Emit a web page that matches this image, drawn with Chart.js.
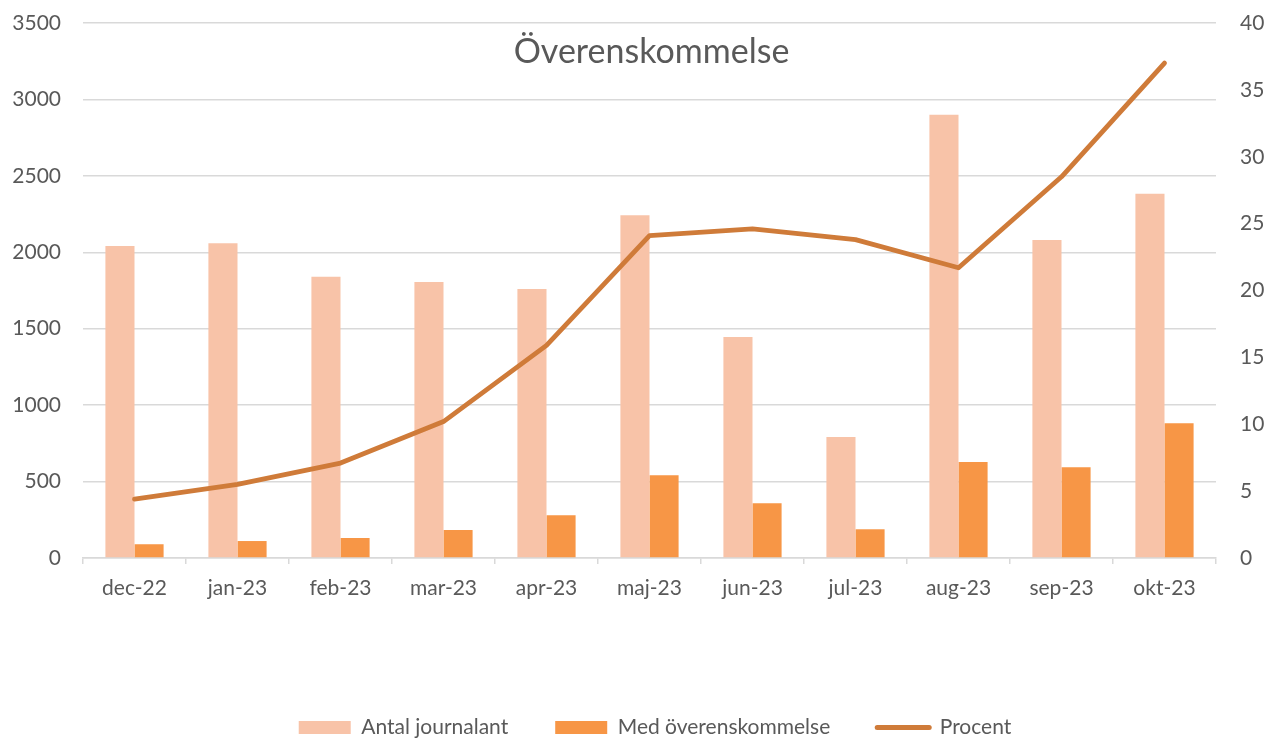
<!DOCTYPE html>
<html>
<head>
<meta charset="utf-8">
<script src="https://cdn.jsdelivr.net/npm/chart.js@4/dist/chart.umd.min.js"></script>
<style>
  html, body { margin: 0; padding: 0; background: #fff; }
  #wrap { width: 1268px; height: 738px; }
</style>
</head>
<body>
<div id="wrap"><canvas id="chart" width="1268" height="738"></canvas></div>
<script>
// Data
const months = ['dec-22', 'jan-23', 'feb-23', 'mar-23', 'apr-23', 'maj-23', 'jun-23', 'jul-23', 'aug-23', 'sep-23', 'okt-23'];
const antalJournalant = [2041, 2059, 1840, 1806, 1760, 2242, 1446, 792, 2900, 2080, 2383];
const medOverenskommelse = [90, 111, 131, 183, 279, 541, 358, 188, 628, 593, 881];
const procent = [4.4, 5.5, 7.1, 10.2, 15.9, 24.1, 24.6, 23.8, 21.7, 28.5, 37.0];
const titleText = 'Överenskommelse';

const FONT = 'Lato, "Open Sans", sans-serif';
const TEXT = '#595959';
const GRID = '#D9D9D9';

// title sits inside the plot area, like Excel does it
const titlePlugin = {
    id: 'insideTitle',
    afterLayout(chart) {
        // legend in the reference sits a bit right of centre
        chart.legend.left += 21;
        chart.legend.right += 21;
    },
    afterDraw(chart) {
        const { ctx, chartArea } = chart;
        ctx.save();
        ctx.font = '34px ' + FONT;
        ctx.fillStyle = TEXT;
        ctx.textAlign = 'center';
        ctx.textBaseline = 'middle';
        ctx.fillText(titleText, (chartArea.left + chartArea.right) / 2 + 2, 52);
        ctx.restore();
    }
};

// fixed axis sizes so the plot area lands where the reference has it
function fixV(width) {
    return scale => { scale.width = width; scale.paddingTop = 0; scale.paddingBottom = 0; };
}

new Chart(document.getElementById('chart'), {
    type: 'bar',
    data: {
        labels: months,
        datasets: [
            {
                label: 'Antal journalant',
                data: antalJournalant,
                backgroundColor: '#F8C3A8',
                yAxisID: 'y',
                order: 2
            },
            {
                label: 'Med överenskommelse',
                data: medOverenskommelse,
                backgroundColor: '#F79646',
                yAxisID: 'y',
                order: 2
            },
            {
                type: 'line',
                label: 'Procent',
                data: procent,
                borderColor: '#CF7B39',
                backgroundColor: '#CF7B39',
                borderWidth: 4.8,
                pointRadius: 0,
                tension: 0,
                borderJoinStyle: 'round',
                borderCapStyle: 'round',
                yAxisID: 'y1',
                order: 1
            }
        ]
    },
    options: {
        responsive: false,
        animation: false,
        datasets: {
            bar: { barPercentage: 1, categoryPercentage: 0.565 }
        },
        layout: { padding: { top: 23, left: 0, right: 0, bottom: -10 } },
        plugins: {
            title: { display: false },
            tooltip: { enabled: false },
            legend: {
                position: 'bottom',
                labels: {
                    color: TEXT,
                    font: { family: FONT, size: 21 },
                    usePointStyle: true,
                    boxHeight: 13,
                    pointStyleWidth: 52,
                    padding: 47,
                    sort: (a, b) => a.datasetIndex - b.datasetIndex,
                    generateLabels(chart) {
                        const items = Chart.defaults.plugins.legend.labels.generateLabels(chart);
                        items.forEach(it => {
                            const ds = chart.data.datasets[it.datasetIndex];
                            if (ds.type === 'line') {
                                it.pointStyle = 'line';
                                it.lineWidth = 5;
                                it.strokeStyle = ds.borderColor;
                                it.lineCap = 'round';
                            } else {
                                it.pointStyle = 'rect';
                                it.lineWidth = 0;
                                it.strokeStyle = ds.backgroundColor;
                            }
                        });
                        return items;
                    }
                }
            }
        },
        scales: {
            x: {
                grid: { display: true, drawOnChartArea: false, drawTicks: true, tickLength: 6, color: GRID, lineWidth: 1.5 },
                border: { display: true, color: GRID, width: 1.5 },
                ticks: { color: TEXT, font: { family: FONT, size: 21 }, padding: 12, maxRotation: 0 },
                afterFit(scale) { scale.height = 112; scale.paddingLeft = 0; scale.paddingRight = 0; }
            },
            y: {
                position: 'left',
                min: 0,
                max: 3500,
                ticks: { stepSize: 500, color: TEXT, font: { family: FONT, size: 21 }, padding: 22, callback: v => String(v) },
                grid: { color: GRID, lineWidth: 1.5, drawTicks: false },
                border: { display: false },
                afterFit: fixV(83)
            },
            y1: {
                position: 'right',
                min: 0,
                max: 40,
                ticks: { stepSize: 5, color: TEXT, font: { family: FONT, size: 21 }, padding: 24, callback: v => String(v) },
                grid: { drawOnChartArea: false, drawTicks: false },
                border: { display: false },
                afterFit: fixV(52)
            }
        }
    },
    plugins: [titlePlugin]
});
</script>
</body>
</html>
